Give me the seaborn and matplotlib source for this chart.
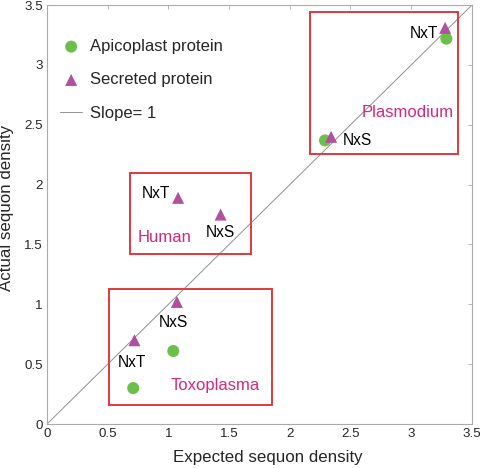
import numpy as np
import pandas as pd
import matplotlib
matplotlib.use('Agg')
import matplotlib.pyplot as plt
import seaborn as sns
from matplotlib.patches import Rectangle

sns.set_style('white')
plt.rcParams['font.family'] = ['Liberation Sans', 'DejaVu Sans']

# data (expected, actual)
apico_x = [3.29, 2.29, 1.04, 0.71]
apico_y = [3.22, 2.37, 0.61, 0.30]
secr_x = [3.28, 2.34, 1.08, 1.43, 1.07, 0.72]
secr_y = [3.31, 2.40, 1.89, 1.75, 1.02, 0.70]

groups = ['Plasmodium', 'Human', 'Toxoplasma']
box_x0 = [2.17, 0.68, 0.51]
box_x1 = [3.39, 1.68, 1.85]
box_y0 = [2.26, 1.42, 0.16]
box_y1 = [3.44, 2.10, 1.13]
group_lx = [2.97, 0.97, 1.39]
group_ly = [2.60, 1.56, 0.32]

seq_labels = ['NxT', 'NxS', 'NxT', 'NxS', 'NxS', 'NxT']
seq_lx = [3.22, 2.44, 0.90, 1.43, 1.04, 0.70]
seq_ly = [3.26, 2.37, 1.93, 1.60, 0.85, 0.51]
seq_ha = ['right', 'left', 'center', 'center', 'center', 'center']

green = '#6cbf4a'
purple = '#b0509e'
pink = '#d6287a'
red = '#e0393e'

df_a = pd.DataFrame({'x': apico_x, 'y': apico_y})
df_s = pd.DataFrame({'x': secr_x, 'y': secr_y})

fig, ax = plt.subplots(figsize=(4.8, 4.68), dpi=100)
fig.subplots_adjust(left=0.098, right=0.983, bottom=0.094, top=0.989)

ax.plot([0, 3.5], [0, 3.5], color='#909090', lw=0.7, label='Slope= 1', zorder=1)
sns.scatterplot(data=df_a, x='x', y='y', ax=ax, color=green, marker='o', s=75,
                edgecolor='none', label='Apicoplast protein', zorder=3)
sns.scatterplot(data=df_s, x='x', y='y', ax=ax, color=purple, marker='^', s=75,
                edgecolor='none', label='Secreted protein', zorder=4)

for i in range(len(groups)):
    ax.add_patch(Rectangle((box_x0[i], box_y0[i]), box_x1[i] - box_x0[i], box_y1[i] - box_y0[i],
                           fill=False, edgecolor=red, lw=1.4, zorder=2))
    ax.text(group_lx[i], group_ly[i], groups[i], color=pink, fontsize=12,
            ha='center', va='center')

for i in range(len(seq_labels)):
    ax.text(seq_lx[i], seq_ly[i], seq_labels[i], color='black', fontsize=11.2,
            ha=seq_ha[i], va='center')

ax.set_xlim(0, 3.5)
ax.set_ylim(0, 3.5)
ax.set_xticks(np.arange(0, 3.51, 0.5))
ax.set_yticks(np.arange(0, 3.51, 0.5))
ax.set_xticklabels(['0', '0.5', '1', '1.5', '2', '2.5', '3', '3.5'])
ax.set_yticklabels(['0', '0.5', '1', '1.5', '2', '2.5', '3', '3.5'])
ax.tick_params(direction='in', length=3, width=0.6, color='#aaaaaa', labelsize=9.6,
               top=True, right=True, pad=3)
for sp in ax.spines.values():
    sp.set_color('#aaaaaa')
    sp.set_linewidth(0.8)
ax.set_xlabel('Expected sequon density', fontsize=12.2)
ax.set_ylabel('Actual sequon density', fontsize=12.2)
ax.xaxis.set_label_coords(0.52, -0.062)
ax.yaxis.set_label_coords(-0.077, 0.515)

h, l = ax.get_legend_handles_labels()
order = [l.index('Apicoplast protein'), l.index('Secreted protein'), l.index('Slope= 1')]
ax.legend([h[i] for i in order], [l[i] for i in order], loc='upper left', frameon=False,
          fontsize=12, bbox_to_anchor=(-0.005, 0.955), labelspacing=1.1,
          handlelength=1.35, handletextpad=0.45)

plt.savefig('out.png', dpi=100)
